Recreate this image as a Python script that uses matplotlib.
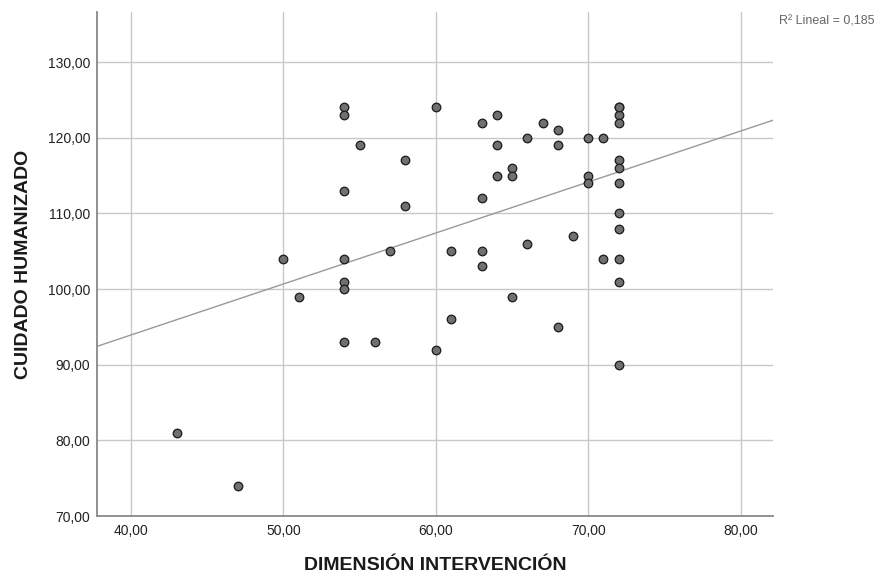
import numpy as np
import matplotlib
matplotlib.use("Agg")
import matplotlib.pyplot as plt

plt.rcParams['font.family'] = ['Liberation Sans', 'DejaVu Sans']

x_vals = [43, 47, 50, 51,
          54, 54, 54, 54, 54, 54, 54,
          55, 56, 57, 58, 58,
          60, 60, 61, 61,
          63, 63, 63, 63,
          64, 64, 64,
          65, 65, 65,
          66, 66, 67, 68, 68, 68, 69,
          70, 70, 70,
          71, 71,
          72, 72, 72, 72, 72, 72, 72, 72, 72, 72, 72, 72]
y_vals = [81, 74, 104, 99,
          124, 123, 113, 104, 101, 100, 93,
          119, 93, 105, 117, 111,
          124, 92, 105, 96,
          122, 112, 105, 103,
          123, 119, 115,
          116, 115, 99,
          120, 106, 122, 121, 119, 95, 107,
          120, 115, 114,
          120, 104,
          124, 123, 122, 117, 116, 114, 110, 108, 104, 101, 90, 124]

x_ticks = [40, 50, 60, 70, 80]
y_ticks = [70, 80, 90, 100, 110, 120, 130]
x_label = "DIMENSIÓN INTERVENCIÓN"
y_label = "CUIDADO HUMANIZADO"
r2_label = "R² Lineal = 0,185"

x = np.array(x_vals, float)
y = np.array(y_vals, float)
slope, intercept = np.polyfit(x, y, 1)

fig = plt.figure(figsize=(8.82, 5.78), dpi=100)
ax = fig.add_axes([0.110, 0.107, 0.766, 0.872])
xlim = (37.77, 82.1)
ylim = (70, 136.6)
ax.set_xlim(*xlim)
ax.set_ylim(*ylim)

ax.set_xticks(x_ticks)
ax.set_yticks(y_ticks)
ax.set_xticklabels([f"{v:.2f}".replace('.', ',') for v in x_ticks], fontsize=10, color='#222222')
ax.set_yticklabels([f"{v:.2f}".replace('.', ',') for v in y_ticks], fontsize=10, color='#222222')
ax.tick_params(axis='x', length=0, pad=6)
ax.tick_params(axis='y', length=0, pad=5)
ax.grid(True, color='#c8c8c8', linewidth=1.0)
ax.set_axisbelow(True)
for s in ['top', 'right']:
    ax.spines[s].set_visible(False)
for s in ['left', 'bottom']:
    ax.spines[s].set_color('#888888')
    ax.spines[s].set_linewidth(1.3)

xx = np.array(xlim)
ax.plot(xx, slope * xx + intercept, color='#999999', linewidth=1.0, zorder=2)
ax.scatter(x, y, s=38, facecolor='#707070', edgecolor='#1a1a1a', linewidth=0.9, zorder=3)

ax.set_xlabel(x_label, fontsize=14, fontweight='bold', labelpad=13, color='#1a1a1a')
ax.set_ylabel(y_label, fontsize=14, fontweight='bold', labelpad=11, color='#1a1a1a')

fig.text(0.883, 0.962, r2_label, fontsize=9, color='#666666', ha='left', va='center')

fig.savefig("out.png", dpi=100)
